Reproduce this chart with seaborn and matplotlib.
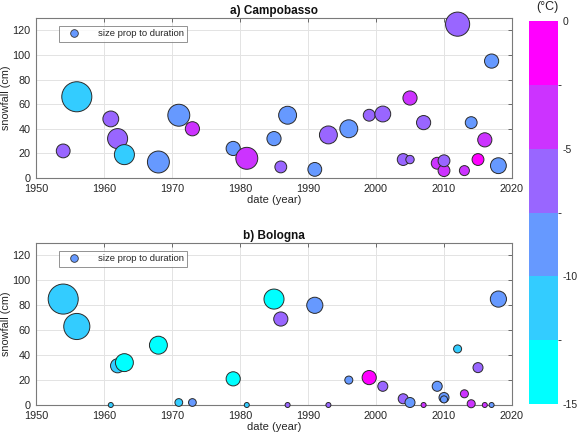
import numpy as np
import matplotlib
matplotlib.use('Agg')
import matplotlib.pyplot as plt
from matplotlib.colors import ListedColormap, BoundaryNorm
from matplotlib.lines import Line2D
import seaborn as sns
import pandas as pd

sns.set_style("whitegrid")
plt.rcParams['font.family'] = ['Liberation Sans', 'DejaVu Sans']

# a) Campobasso
cb_year = [1954, 1956, 1961, 1962, 1963, 1968, 1971, 1973, 1979, 1981, 1985, 1986, 1987,
           1991, 1993, 1996, 1999, 2001, 2004, 2005, 2005, 2007, 2009, 2010, 2010, 2012,
           2013, 2014, 2015, 2016, 2017, 2018]
cb_snow = [22, 66, 48, 32, 19, 13, 51, 40, 24, 16, 32, 9, 51,
           7, 35, 40, 51, 52, 15, 15, 65, 45, 12, 6, 14, 125,
           6, 45, 15, 31, 95, 10]
cb_temp = [-6, -11, -6, -6, -11, -9, -9, -4, -9, -4, -9, -6, -9,
           -9, -6, -9, -6, -6, -6, -6, -4, -6, -4, -4, -6, -6,
           -4, -9, -1, -4, -9, -9]
cb_dur = [1.9, 9.0, 2.5, 4.0, 4.0, 4.8, 4.8, 2.0, 2.0, 4.8, 2.0, 1.4, 3.2,
          1.9, 3.2, 3.2, 1.4, 2.5, 1.4, 0.7, 2.0, 2.0, 1.4, 1.4, 1.4, 5.8,
          1.0, 1.4, 1.4, 2.0, 2.0, 2.5]

# b) Bologna
bo_year = [1954, 1956, 1961, 1962, 1963, 1968, 1971, 1973, 1979, 1981, 1985, 1986, 1987,
           1991, 1993, 1996, 1999, 2001, 2004, 2005, 2007, 2009, 2010, 2010, 2012, 2013,
           2014, 2015, 2016, 2017, 2018]
bo_snow = [85, 63, 0, 31.5, 34, 48, 2, 2, 21, 0, 85, 69, 0,
           80, 0, 20, 22, 15, 5, 2, 0, 15, 6, 4.5, 45, 9,
           1, 30, 0, 0, 85]
bo_temp = [-11, -11, -11, -11, -14, -14, -11, -9, -14, -11, -14, -6, -6,
           -9, -6, -9, -1, -6, -6, -9, -4, -9, -9, -9, -11, -4,
           -4, -6, -4, -9, -9]
bo_dur = [9.0, 6.8, 0.25, 2.0, 3.2, 3.2, 0.6, 0.6, 2.0, 0.25, 4.0, 2.0, 0.25,
          2.6, 0.25, 0.64, 2.0, 1.0, 1.0, 1.0, 0.25, 1.0, 1.0, 0.5, 0.64, 0.64,
          0.64, 1.0, 0.25, 0.25, 2.6]

titles = ['a) Campobasso', 'b) Bologna']
temp_levels = [-15, -12.5, -10, -7.5, -5, -2.5, 0]
cbar_ticks = [-15, -10, -5, 0]

cool6 = ListedColormap([(0, 1, 1), (0.2, 0.8, 1), (0.4, 0.6, 1),
                        (0.6, 0.4, 1), (0.8, 0.2, 1), (1, 0, 1)])
norm = BoundaryNorm(temp_levels, cool6.N)

W, H = 579, 445
fig = plt.figure(figsize=(W / 100, H / 100), dpi=100)
ax_a = fig.add_axes([36 / W, 1 - 178 / H, 476 / W, 160 / H])
ax_b = fig.add_axes([36 / W, 1 - 405 / H, 476 / W, 162 / H])
cax = fig.add_axes([529 / W, 1 - 404 / H, 29 / W, 383 / H])

gray = '#262626'
datasets = [(cb_year, cb_snow, cb_temp, cb_dur), (bo_year, bo_snow, bo_temp, bo_dur)]
for ax, (yr, sn, tp, du), title in zip([ax_a, ax_b], datasets, titles):
    df = pd.DataFrame({'year': yr, 'snow': sn, 'temp': tp, 'dur': du})
    ax.scatter(df['year'], df['snow'], s=df['dur'] * 52, c=df['temp'], cmap=cool6, norm=norm,
               edgecolors='#2a2a2a', linewidths=0.7, zorder=3, clip_on=False)
    ax.set_xlim(1950, 2020)
    ax.set_ylim(0, 130)
    ax.set_xticks(range(1950, 2021, 10))
    ax.set_yticks(range(0, 121, 20))
    ax.grid(True, color='#e3e3e3', linewidth=0.7)
    ax.set_axisbelow(True)
    for sp in ax.spines.values():
        sp.set_visible(True)
        sp.set_color('#7a7a7a')
        sp.set_linewidth(0.8)
    ax.tick_params(direction='in', length=3, width=0.6, color='#555555', labelsize=7.8,
                   labelcolor=gray, top=True, right=True)
    ax.tick_params(axis='y', pad=4)
    ax.tick_params(axis='x', pad=4)
    ax.set_xlabel('date (year)', fontsize=8, color=gray, labelpad=1)
    ax.set_ylabel('snowfall (cm)', fontsize=7.8, color=gray, labelpad=1)
    ax.set_title(title, fontsize=8.5, fontweight='bold', color='#111111', pad=3)
    handle = Line2D([], [], marker='o', linestyle='none', markersize=5.5,
                    markerfacecolor=(0.4, 0.6, 1), markeredgecolor='#333333', markeredgewidth=0.6)
    leg = ax.legend([handle], ['size prop to duration'], loc='upper left',
                    bbox_to_anchor=(0.048, 0.95), fontsize=6.8, frameon=True, fancybox=False,
                    handletextpad=1.2, borderpad=0.35, handlelength=2.6, borderaxespad=0)
    leg.get_frame().set_edgecolor('#777777')
    leg.get_frame().set_linewidth(0.7)
    for t in leg.get_texts():
        t.set_color(gray)

sm = plt.cm.ScalarMappable(cmap=cool6, norm=norm)
cb = fig.colorbar(sm, cax=cax, ticks=cbar_ticks, boundaries=temp_levels)
cb.outline.set_visible(False)
cax.tick_params(direction='in', length=0, labelsize=7.5, labelcolor=gray, pad=3)
cax.set_yticklabels([str(t) for t in cbar_ticks])
fig.text(547 / W, 1 - 1 / H, '(°C)', ha='center', va='top', fontsize=9, color=gray)

plt.savefig('out.png', dpi=100)
plt.close()
